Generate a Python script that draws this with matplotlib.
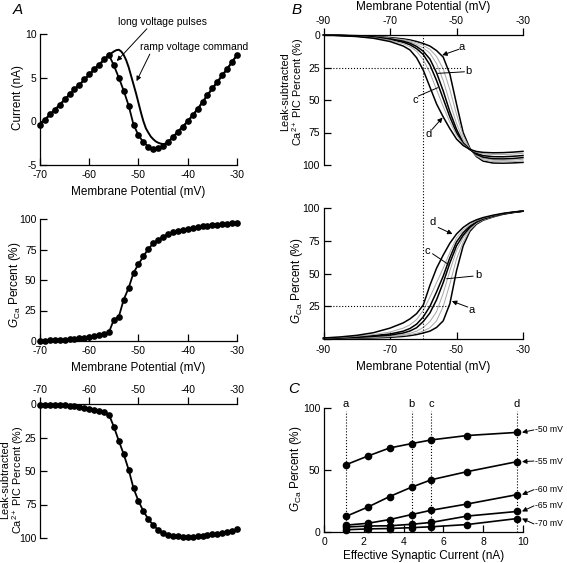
import matplotlib
matplotlib.use("Agg")
import matplotlib.pyplot as plt
import matplotlib.transforms as mtransforms

plt.rcParams["font.family"] = ["Liberation Sans", "DejaVu Sans"]
plt.rcParams["mathtext.fontset"] = "custom"
plt.rcParams["mathtext.rm"] = "Liberation Sans"
plt.rcParams["mathtext.it"] = "Liberation Sans:italic"
plt.rcParams["mathtext.bf"] = "Liberation Sans:bold"
plt.rcParams["axes.unicode_minus"] = False
plt.rcParams["axes.linewidth"] = 0.9

# ---------------- data ----------------
# panel A: long voltage pulses, one point per mV from -70 to -30
v_pulse = list(range(-70, -29))
i_pulse = [-0.4, 0.2, 0.8, 1.3, 1.9, 2.5, 3.1, 3.7, 4.2, 4.8, 5.4, 6.0, 6.5, 7.1, 7.6,
           6.4, 5.0, 3.5, 1.8, -0.4, -1.6, -2.4, -2.9, -3.2, -3.1,
           -2.8, -2.4, -1.8, -1.2, -0.6, 0.0, 0.7, 1.4, 2.2, 3.0,
           3.8, 4.5, 5.3, 6.0, 6.8, 7.6]
gca_pulse = [0.3, 0.4, 0.6, 0.8, 1.0, 1.2, 1.5, 1.9, 2.3, 2.8, 3.3, 4.0, 4.8, 5.8, 7.2,
             17.5, 19.8, 34, 43.5, 56, 63, 69.5, 75.5, 80, 83,
             85.5, 87.5, 89, 90.3, 91.3, 92.1, 92.8, 93.4, 94, 94.5,
             95, 95.4, 95.8, 96.2, 96.4, 96.5]
pic_pulse = [0.5, 0.5, 0.6, 0.7, 0.9, 1.1, 1.4, 1.8, 2.2, 2.8, 3.4, 4.2, 5.0, 6.0, 8.0,
             17, 27.5, 37.5, 49, 63, 72.5, 80, 86, 90.4, 94,
             96.6, 97.9, 98.4, 98.8, 99, 99, 99, 98.7, 98.3, 97.8,
             97.3, 96.7, 96, 95.3, 94.5, 93.6]

# panel A: ramp voltage command
v_ramp = [-70, -56, -55, -54.5, -54, -53.5, -53, -52.5, -52, -51.5,
          -51, -50.5, -50, -49.5, -49, -48.5, -48, -47.5, -47, -46.5,
          -46, -45.5, -45, -44.5, -44, -43, -42, -41, -40, -38,
          -36, -34, -32, -30]
i_ramp = [-0.4, 7.6, 8.0, 8.15, 8.2, 8.0, 7.6, 7.0, 6.2, 5.2,
          4.2, 3.2, 2.1, 1.0, 0.0, -0.8, -1.3, -1.75, -2.05, -2.3,
          -2.45, -2.55, -2.6, -2.55, -2.4, -1.8, -1.2, -0.6, 0.0, 1.4,
          3.0, 4.5, 6.0, 7.6]

# panel B: model curves for synaptic currents a..d (grey = intermediate)
v_b = [-90, -85, -80, -75, -70, -66, -64, -62, -60, -58, -56,
       -54, -52, -50, -48, -46, -44, -42, -39, -36, -33, -30]

pic_a  = [0, 0.2, 0.5, 1.0, 2.0, 3.0, 3.8, 5.0, 6.5, 8.5, 12, 17, 30, 53, 75, 87, 93.5, 97, 98.5, 98.6, 98.4, 98]
pic_g1 = [0, 0.2, 0.6, 1.1, 2.3, 3.5, 4.5, 6, 8, 11, 16.5, 26, 42, 61, 77.5, 87.5, 93, 96, 97.4, 97.6, 97.4, 96.8]
pic_g2 = [0, 0.2, 0.7, 1.3, 2.6, 4.1, 5.3, 7.3, 10, 14, 22, 35, 52, 68, 80.5, 88, 92.5, 95, 96.3, 96.5, 96.2, 95.6]
pic_b  = [0, 0.3, 0.8, 1.5, 3.0, 4.8, 6.3, 8.8, 12.5, 18.5, 29, 43, 59, 72.5, 83, 88, 91.8, 94, 95.2, 95.3, 95, 94.3]
pic_c  = [0, 0.3, 0.9, 1.7, 3.4, 5.6, 7.5, 10.5, 15, 23, 35, 49, 63, 75, 83.5, 88, 91, 92.8, 93.6, 93.7, 93.3, 92.7]
pic_g3 = [0, 0.4, 1.0, 2.0, 4.0, 6.8, 9.0, 12.5, 19, 29, 42, 55, 67, 77, 84, 88, 90.3, 91.5, 92, 92, 91.6, 91]
pic_d  = [0, 0.5, 1.2, 2.5, 5.0, 8.5, 11.5, 17.5, 27, 40, 53, 63, 72, 80, 85, 88, 89.6, 90.3, 90.6, 90.5, 90.1, 89.5]

gca_a  = [0.3, 0.5, 0.8, 1.1, 1.5, 2.2, 2.8, 3.6, 4.8, 6.2, 9, 14, 27, 52, 71, 82, 87.5, 90.5, 93, 95, 96.3, 97.3]
gca_g1 = [0.4, 0.6, 1.0, 1.4, 2.0, 2.9, 3.6, 4.6, 6.2, 8.8, 14, 25, 42, 61, 74, 83, 88, 90.8, 93.2, 95.1, 96.4, 97.4]
gca_g2 = [0.5, 0.8, 1.2, 1.8, 2.5, 3.6, 4.6, 6.2, 9, 13.5, 21, 35, 52, 67.5, 77, 84, 88.5, 91.1, 93.4, 95.2, 96.4, 97.4]
gca_b  = [0.6, 1.0, 1.5, 2.2, 3.2, 4.8, 6.3, 8.8, 13.5, 20, 30, 43, 58, 71, 79, 85, 89, 91.4, 93.6, 95.3, 96.5, 97.4]
gca_c  = [0.7, 1.2, 1.9, 2.8, 4.0, 6.2, 8.2, 11.5, 17, 25, 36, 48, 62, 74, 81, 86, 89.5, 91.7, 93.8, 95.4, 96.5, 97.4]
gca_g3 = [0.8, 1.4, 2.3, 3.6, 5.5, 8.5, 11, 15, 22, 32, 43, 54, 66, 77, 83, 87, 90, 92, 94, 95.5, 96.6, 97.5]
gca_d  = [1.0, 1.8, 3.0, 5.0, 8.5, 12.5, 15.5, 19.5, 26, 41, 54, 64, 73, 80, 85, 88.5, 90.8, 92.5, 94.3, 95.7, 96.7, 97.5]

# panel C
syn_current = [1.1, 2.2, 3.3, 4.4, 5.4, 7.2, 9.7]
gca_m50 = [54, 61, 67.5, 71, 74, 77.5, 80]
gca_m55 = [12.5, 20, 28.5, 36, 42, 48.5, 56.5]
gca_m60 = [5.5, 7, 10, 14, 17.5, 22.5, 30]
gca_m65 = [4, 4.8, 5, 6.2, 7.7, 12.8, 16.5]
gca_m70 = [1.8, 2.5, 2.8, 3.5, 4.2, 6, 10.8]
c_letters = ["a", "b", "c", "d"]
c_letter_current = [1.1, 4.4, 5.4, 9.7]
c_labels = ["-50 mV", "-55 mV", "-60 mV", "-65 mV", "-70 mV"]

# ---------------- layout ----------------
W, H = 567, 563
fig = plt.figure(figsize=(W / 100, H / 100), dpi=100)


def rect(x0, y0, x1, y1):
    # pixel box, origin top-left -> figure fraction
    return [x0 / W, 1 - y1 / H, (x1 - x0) / W, (y1 - y0) / H]


def ftext(x, y, s, **kw):
    kw.setdefault("ha", "center")
    kw.setdefault("va", "center")
    fig.text(x / W, 1 - y / H, s, **kw)


def style(ax, top=False):
    ax.spines["right"].set_visible(False)
    if top:
        ax.spines["bottom"].set_visible(False)
        ax.xaxis.tick_top()
        ax.tick_params(axis="x", direction="out", length=4.8, width=0.9, pad=1.5, labelsize=7.5)
    else:
        ax.spines["top"].set_visible(False)
        ax.tick_params(axis="x", direction="in", length=4.8, width=0.9, pad=3.8, labelsize=7.5)
    ax.tick_params(axis="y", direction="in", length=4.8, width=0.9, pad=2.5, labelsize=7.5)


dot = dict(color="k", marker="o", ms=3.8, lw=1.3, clip_on=False)
arrow = dict(arrowstyle="-|>", color="k", lw=0.7, mutation_scale=7, shrinkA=0, shrinkB=0)
plain = dict(arrowstyle="-", color="k", lw=0.7, shrinkA=0, shrinkB=0)

# A1: I-V
ax1 = fig.add_axes(rect(40, 34, 237, 165))
style(ax1)
ax1.plot(v_ramp, i_ramp, color="k", lw=1.4, clip_on=False)
ax1.plot(v_pulse, i_pulse, **dot)
ax1.set_xlim(-70, -30)
ax1.set_ylim(-5, 10)
ax1.set_xticks([-70, -60, -50, -40, -30])
ax1.set_yticks([-5, 0, 5, 10])
ax1.text(-45.2, 11.4, "long voltage pulses", fontsize=7.5, ha="center", va="center")
ax1.annotate("", xy=(-54.4, 6.9), xytext=(-48.3, 10.6), arrowprops=arrow, annotation_clip=False)
ax1.text(-38.7, 8.5, "ramp voltage command", fontsize=7.5, ha="center", va="center")
ax1.annotate("", xy=(-50.4, 4.6), xytext=(-47.7, 7.7), arrowprops=arrow, annotation_clip=False)

# A2: GCa
ax2 = fig.add_axes(rect(40, 219, 237, 341))
style(ax2)
ax2.plot(v_pulse, gca_pulse, **dot)
ax2.set_xlim(-70, -30)
ax2.set_ylim(0, 100)
ax2.set_xticks([-70, -60, -50, -40, -30])
ax2.set_yticks([0, 25, 50, 75, 100])

# A3: leak-subtracted PIC
ax3 = fig.add_axes(rect(40, 404, 237, 538))
style(ax3, top=True)
ax3.plot(v_pulse, pic_pulse, **dot)
ax3.set_xlim(-70, -30)
ax3.set_ylim(100, 0)
ax3.set_xticks([-70, -60, -50, -40, -30])
ax3.set_yticks([0, 25, 50, 75, 100])

# B1 / B2
pic_curves = [(pic_a, "k"), (pic_g1, "grey"), (pic_g2, "grey"), (pic_b, "k"),
              (pic_c, "k"), (pic_g3, "grey"), (pic_d, "k")]
gca_curves = [(gca_a, "k"), (gca_g1, "grey"), (gca_g2, "grey"), (gca_b, "k"),
              (gca_c, "k"), (gca_g3, "grey"), (gca_d, "k")]

axb1 = fig.add_axes(rect(323.5, 35, 523, 165))
style(axb1, top=True)
for ys, col in pic_curves:
    axb1.plot(v_b, ys, color="k" if col == "k" else "#a8a8a8",
              lw=1.1 if col == "k" else 0.7, clip_on=False)
axb1.set_xlim(-90, -30)
axb1.set_ylim(100, 0)
axb1.set_xticks([-90, -70, -50, -30])
axb1.set_yticks([0, 25, 50, 75, 100])
axb1.plot([-90, -48.5], [25, 25], color="k", ls=":", lw=0.8)
axb1.text(-48.4, 9, "a", fontsize=8, ha="center", va="center")
axb1.annotate("", xy=(-54.3, 15.5), xytext=(-49.3, 11), arrowprops=arrow)
axb1.text(-46.3, 27.7, "b", fontsize=8, ha="center", va="center")
axb1.annotate("", xy=(-55.6, 29.5), xytext=(-47.6, 28.3), arrowprops=plain)
axb1.text(-62.5, 50, "c", fontsize=8, ha="center", va="center")
axb1.annotate("", xy=(-55.6, 40.5), xytext=(-61.5, 47), arrowprops=plain)
axb1.text(-58.5, 76, "d", fontsize=8, ha="center", va="center")
axb1.annotate("", xy=(-54.2, 63.5), xytext=(-57.3, 72.5), arrowprops=arrow)

axb2 = fig.add_axes(rect(323.5, 207.7, 523, 339.3))
style(axb2)
for ys, col in gca_curves:
    axb2.plot(v_b, ys, color="k" if col == "k" else "#a8a8a8",
              lw=1.1 if col == "k" else 0.7, clip_on=False)
axb2.set_xlim(-90, -30)
axb2.set_ylim(0, 100)
axb2.set_xticks([-90, -70, -50, -30])
axb2.set_yticks([0, 25, 50, 75, 100])
axb2.set_yticklabels(["", "25", "50", "75", "100"])
axb2.plot([-90, -52], [25, 25], color="k", ls=":", lw=0.8)
axb2.text(-57.1, 89, "d", fontsize=8, ha="center", va="center")
axb2.annotate("", xy=(-51.2, 80), xytext=(-55.5, 85), arrowprops=arrow)
axb2.text(-58.8, 67, "c", fontsize=8, ha="center", va="center")
axb2.annotate("", xy=(-52.5, 57), xytext=(-57.2, 65), arrowprops=plain)
axb2.text(-43.5, 49, "b", fontsize=8, ha="center", va="center")
axb2.annotate("", xy=(-53, 46), xytext=(-45, 48), arrowprops=plain)
axb2.text(-45.5, 22, "a", fontsize=8, ha="center", va="center")
axb2.annotate("", xy=(-51.4, 29), xytext=(-46.6, 24.5), arrowprops=arrow)

# vertical dotted line at -60 mV spanning both B panels
tr = mtransforms.blended_transform_factory(axb2.transData, fig.transFigure)
fig.add_artist(plt.Line2D([-60, -60], [1 - 339.3 / H, 1 - 35 / H], transform=tr,
                          color="k", ls=":", lw=0.8))

# C
axc = fig.add_axes(rect(324, 407.5, 523, 532))
style(axc)
for ys in [gca_m50, gca_m55, gca_m60, gca_m65, gca_m70]:
    axc.plot(syn_current, ys, color="k", marker="o", ms=4.5, lw=1.2, clip_on=False)
for lt, xc in zip(c_letters, c_letter_current):
    axc.plot([xc, xc], [0, 97], color="k", ls=":", lw=0.8)
    axc.text(xc, 103, lt, fontsize=8, ha="center", va="center")
label_y = [82, 57, 34, 21, 6.5]
series_end = [gca_m50[-1], gca_m55[-1], gca_m60[-1], gca_m65[-1], gca_m70[-1]]
for lab, ly, ye in zip(c_labels, label_y, series_end):
    axc.text(10.6, ly, lab, fontsize=6.2, ha="left", va="center")
    axc.annotate("", xy=(9.95, ye), xytext=(10.55, ly), arrowprops=arrow, annotation_clip=False)
axc.set_xlim(0, 10)
axc.set_ylim(0, 100)
axc.set_xticks([0, 2, 4, 6, 8, 10])
axc.set_yticks([0, 50, 100])

# axis labels and panel letters
lab = dict(fontsize=8.5)
ftext(138.5, 192, "Membrane Potential (mV)", **lab)
ftext(138.5, 368, "Membrane Potential (mV)", **lab)
ftext(423, 7, "Membrane Potential (mV)", **lab)
ftext(423, 367, "Membrane Potential (mV)", **lab)
ftext(423.5, 556, "Effective Synaptic Current (nA)", **lab)
ftext(18, 97, "Current (nA)", rotation=90, **lab)
ftext(15, 285, r"$G_{\rm Ca}$ Percent (%)", rotation=90, **lab)
ftext(13, 480, "Leak-subtracted\nCa$^{2+}$ PIC Percent (%)", rotation=90,
      linespacing=0.95, fontsize=7.8)
ftext(293, 92, "Leak-subtracted\nCa$^{2+}$ PIC Percent (%)", rotation=90,
      linespacing=0.95, fontsize=7.8)
ftext(297, 281, r"$G_{\rm Ca}$ Percent (%)", rotation=90, **lab)
ftext(296, 469, r"$G_{\rm Ca}$ Percent (%)", rotation=90, **lab)
ftext(18, 10, "A", fontsize=11, style="italic")
ftext(297, 10, "B", fontsize=11, style="italic")
ftext(294, 389, "C", fontsize=11, style="italic")

fig.savefig("out.png", dpi=100)
